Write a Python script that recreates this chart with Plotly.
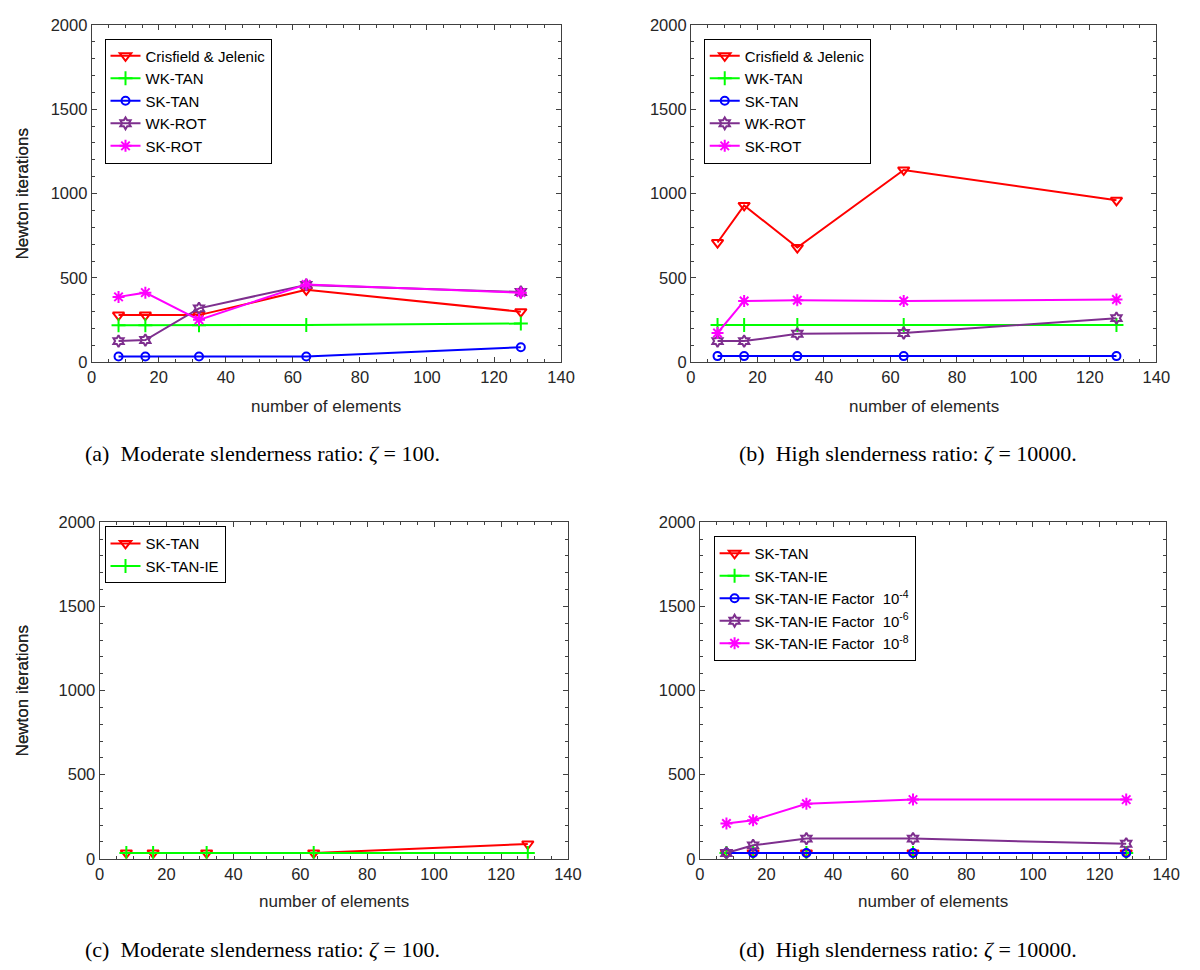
import plotly.graph_objects as go

# ---------------- data ----------------
n_elements = [8, 16, 32, 64, 128]

# (a) moderate slenderness, zeta = 100
a_crisfield = [280, 280, 280, 430, 300]
a_wk_tan = [220, 220, 220, 222, 230]
a_sk_tan = [35, 35, 35, 35, 90]
a_wk_rot = [126, 132, 320, 459, 417]
a_sk_rot = [388, 413, 252, 462, 413]

# (b) high slenderness, zeta = 10000
b_crisfield = [710, 930, 680, 1140, 960]
b_wk_tan = [222, 222, 222, 222, 222]
b_sk_tan = [37, 37, 37, 37, 37]
b_wk_rot = [126, 126, 169, 174, 262]
b_sk_rot = [174, 364, 368, 364, 372]

# (c) moderate slenderness, zeta = 100
c_sk_tan = [35, 35, 35, 35, 88]
c_sk_tan_ie = [35, 35, 35, 35, 35]

# (d) high slenderness, zeta = 10000
d_sk_tan = [35, 35, 35, 35, 35]
d_sk_tan_ie = [35, 35, 35, 35, 35]
d_factor4 = [35, 35, 35, 35, 35]
d_factor6 = [35, 80, 120, 120, 89]
d_factor8 = [210, 229, 327, 352, 352]

names_ab = ["Crisfield &amp; Jelenic", "WK-TAN", "SK-TAN", "WK-ROT", "SK-ROT"]
names_c = ["SK-TAN", "SK-TAN-IE"]
names_d = ["SK-TAN", "SK-TAN-IE",
           "SK-TAN-IE Factor  10<sup>-4</sup>",
           "SK-TAN-IE Factor  10<sup>-6</sup>",
           "SK-TAN-IE Factor  10<sup>-8</sup>"]

captions = ["(a)  Moderate slenderness ratio: <i>ζ</i> = 100.",
            "(b)  High slenderness ratio: <i>ζ</i> = 10000.",
            "(c)  Moderate slenderness ratio: <i>ζ</i> = 100.",
            "(d)  High slenderness ratio: <i>ζ</i> = 10000."]

# ---------------- styles ----------------
colors = ["#FF0000", "#00FF00", "#0000FF", "#7E2F8E", "#FF00FF"]
symbols = ["triangle-down-open", "cross-thin-open", "circle-open", "hexagram-open", "asterisk-open"]
sizes = [10, 10, 8, 9, 10]

# page is 1200x970 including the default 8px body margin
OFF = 8
W, H = 1200 - 2 * OFF, 970 - 2 * OFF


def px(xp):
    return (xp - OFF) / W


def py(yp):
    return 1 - (yp - OFF) / H


# panel pixel boxes on the page: (left, right, top, bottom)
boxes = [(88, 565, 16, 360), (697, 1170, 16, 360),
         (96, 572, 523, 866), (706, 1180, 523, 866)]

fig = go.Figure()

panels = [
    (names_ab, [a_crisfield, a_wk_tan, a_sk_tan, a_wk_rot, a_sk_rot]),
    (names_ab, [b_crisfield, b_wk_tan, b_sk_tan, b_wk_rot, b_sk_rot]),
    (names_c, [c_sk_tan, c_sk_tan_ie]),
    (names_d, [d_sk_tan, d_sk_tan_ie, d_factor4, d_factor6, d_factor8]),
]

legend_pos = [(101, 30), (710, 30), (101, 527), (720, 537)]
sans = "Liberation Sans, Arial, sans-serif"
tick_font = dict(family=sans, size=16.5, color="#262626")

for p, (names, series) in enumerate(panels):
    xa = "x" if p == 0 else f"x{p+1}"
    ya = "y" if p == 0 else f"y{p+1}"
    lg = "legend" if p == 0 else f"legend{p+1}"
    for i, (nm, vals) in enumerate(zip(names, series)):
        fig.add_trace(go.Scatter(
            x=n_elements, y=vals, name=nm, mode="lines+markers",
            xaxis=xa, yaxis=ya, legend=lg,
            line=dict(color=colors[i], width=2),
            marker=dict(symbol=symbols[i], size=sizes[i], color=colors[i],
                        line=dict(color=colors[i], width=2)),
        ))
    l, r, t, b = boxes[p]
    axis_common = dict(showline=True, linecolor="#404040", linewidth=1, mirror="ticks",
                       ticks="inside", ticklen=5, tickcolor="#404040",
                       showgrid=False, zeroline=False, tickfont=tick_font)
    xkey = "xaxis" if p == 0 else f"xaxis{p+1}"
    ykey = "yaxis" if p == 0 else f"yaxis{p+1}"
    fig.layout[xkey] = dict(domain=[px(l), px(r)], anchor=ya, range=[0, 140], dtick=20,
                            minor=dict(ticks="inside", dtick=5, ticklen=3, tickcolor="#404040"),
                            **axis_common)
    fig.layout[ykey] = dict(domain=[py(b), py(t)], anchor=xa, range=[0, 2000], dtick=500,
                            minor=dict(ticks="inside", dtick=100, ticklen=3, tickcolor="#404040"),
                            **axis_common)
    lx, ly = legend_pos[p]
    fig.layout[lg] = dict(x=px(lx), y=py(ly), xanchor="left", yanchor="top",
                          bgcolor="white", bordercolor="#000000", borderwidth=1,
                          font=dict(family=sans, size=15, color="#000"),
                          tracegroupgap=0, itemwidth=30)
    # axis titles
    xt_y = 405 if p < 2 else 910
    fig.add_annotation(x=px((l + r) / 2), y=py(xt_y), xref="paper", yref="paper",
                       xanchor="center", yanchor="middle",
                       text="number of elements", showarrow=False,
                       font=dict(family=sans, size=17, color="#262626"))
    fig.add_annotation(x=px(18), y=py((t + b) / 2), xref="paper", yref="paper",
                       xanchor="center", yanchor="middle",
                       text="Newton iterations", showarrow=False, textangle=-90,
                       font=dict(family=sans, size=17, color="#262626"))
    # caption
    cy = 453 if p < 2 else 958
    cx = 262 if p % 2 == 0 else 918
    fig.add_annotation(x=px(cx), y=py(cy), xref="paper", yref="paper",
                       xanchor="center", yanchor="middle",
                       text=captions[p], showarrow=False,
                       font=dict(family="Liberation Serif, Times New Roman, serif", size=22, color="#000"))

fig.update_layout(width=W, height=H, margin=dict(l=0, r=0, t=0, b=0),
                  paper_bgcolor="white", plot_bgcolor="white", showlegend=True)

fig.write_html("out.html", config={"displayModeBar": False})
